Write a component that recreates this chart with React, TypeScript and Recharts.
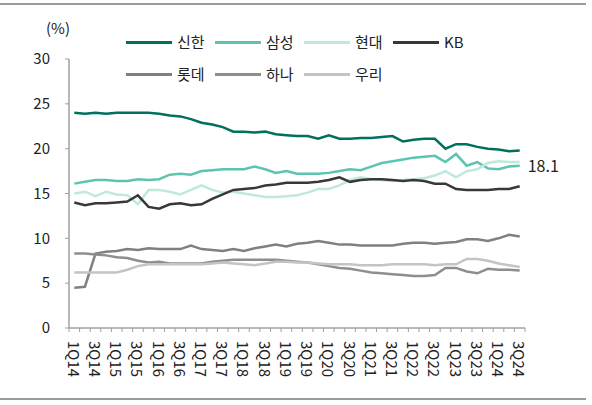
import React from "react";
import { LineChart, Line, XAxis, YAxis, LabelList } from "recharts";

const quarters = [
    "1Q14", "2Q14", "3Q14", "4Q14", "1Q15", "2Q15", "3Q15", "4Q15",
    "1Q16", "2Q16", "3Q16", "4Q16", "1Q17", "2Q17", "3Q17", "4Q17",
    "1Q18", "2Q18", "3Q18", "4Q18", "1Q19", "2Q19", "3Q19", "4Q19",
    "1Q20", "2Q20", "3Q20", "4Q20", "1Q21", "2Q21", "3Q21", "4Q21",
    "1Q22", "2Q22", "3Q22", "4Q22", "1Q23", "2Q23", "3Q23", "4Q23",
    "1Q24", "2Q24", "3Q24",
];

// 카드사별 점유율 (%)
const shinhan = [24.0, 23.9, 24.0, 23.9, 24.0, 24.0, 24.0, 24.0, 23.9, 23.7, 23.6, 23.3, 22.9, 22.7, 22.4, 21.9, 21.9, 21.8, 21.9, 21.6, 21.5, 21.4, 21.4, 21.1, 21.5, 21.1, 21.1, 21.2, 21.2, 21.3, 21.4, 20.8, 21.0, 21.1, 21.1, 20.0, 20.5, 20.5, 20.2, 20.0, 19.9, 19.7, 19.8];
const samsung = [16.1, 16.3, 16.5, 16.5, 16.4, 16.4, 16.6, 16.5, 16.6, 17.1, 17.2, 17.1, 17.5, 17.6, 17.7, 17.7, 17.7, 18.0, 17.7, 17.3, 17.5, 17.2, 17.2, 17.2, 17.3, 17.5, 17.7, 17.6, 18.0, 18.4, 18.6, 18.8, 19.0, 19.1, 19.2, 18.5, 19.4, 18.1, 18.5, 17.8, 17.7, 18.0, 18.1];
const hyundai = [15.0, 15.2, 14.7, 15.2, 14.9, 14.8, 13.8, 15.4, 15.4, 15.2, 14.9, 15.4, 15.9, 15.4, 15.1, 15.2, 15.0, 14.8, 14.6, 14.6, 14.7, 14.8, 15.1, 15.5, 15.5, 15.9, 16.5, 16.8, 16.6, 16.5, 16.4, 16.5, 16.6, 16.7, 17.0, 17.5, 16.8, 17.5, 17.7, 18.4, 18.6, 18.5, 18.5];
const kb = [14.0, 13.7, 13.9, 13.9, 14.0, 14.1, 14.8, 13.5, 13.3, 13.8, 13.9, 13.7, 13.8, 14.4, 14.9, 15.4, 15.5, 15.6, 15.9, 16.0, 16.2, 16.2, 16.2, 16.3, 16.5, 16.8, 16.3, 16.5, 16.6, 16.6, 16.5, 16.4, 16.5, 16.4, 16.1, 16.1, 15.5, 15.4, 15.4, 15.4, 15.5, 15.5, 15.8];
const lotte = [4.5, 4.6, 8.3, 8.5, 8.6, 8.8, 8.7, 8.9, 8.8, 8.8, 8.8, 9.2, 8.8, 8.7, 8.6, 8.8, 8.6, 8.9, 9.1, 9.3, 9.1, 9.4, 9.5, 9.7, 9.5, 9.3, 9.3, 9.2, 9.2, 9.2, 9.2, 9.4, 9.5, 9.5, 9.4, 9.5, 9.6, 9.9, 9.9, 9.7, 10.0, 10.4, 10.2];
const hana = [8.3, 8.3, 8.2, 8.1, 7.9, 7.8, 7.5, 7.3, 7.4, 7.2, 7.2, 7.2, 7.2, 7.4, 7.5, 7.6, 7.6, 7.6, 7.6, 7.6, 7.5, 7.4, 7.3, 7.1, 6.9, 6.7, 6.6, 6.4, 6.2, 6.1, 6.0, 5.9, 5.8, 5.8, 5.9, 6.7, 6.7, 6.3, 6.1, 6.6, 6.5, 6.5, 6.4];
const woori = [6.2, 6.2, 6.2, 6.2, 6.2, 6.5, 6.9, 7.1, 7.1, 7.1, 7.1, 7.1, 7.1, 7.2, 7.3, 7.2, 7.1, 7.0, 7.2, 7.4, 7.4, 7.3, 7.3, 7.2, 7.1, 7.1, 7.1, 7.0, 7.0, 7.0, 7.1, 7.1, 7.1, 7.1, 7.0, 7.1, 7.1, 7.7, 7.7, 7.5, 7.2, 7.0, 6.8];

const yTicks = [0, 5, 10, 15, 20, 25, 30];

const series = [
    { name: "신한", values: shinhan, color: "#00705f" },
    { name: "삼성", values: samsung, color: "#5cc4b1" },
    { name: "현대", values: hyundai, color: "#bfe8df" },
    { name: "KB", values: kb, color: "#383838" },
    { name: "롯데", values: lotte, color: "#808080" },
    { name: "하나", values: hana, color: "#8e8e8e" },
    { name: "우리", values: woori, color: "#c4c4c4" },
];

const labelSeries = "삼성";

const data = quarters.map((q, i) => {
    const row: Record<string, number | string> = { idx: i, quarter: q };
    series.forEach((s) => {
        row[s.name] = s.values[i];
    });
    return row;
});

// 눈금선은 분기 경계에, 라벨은 두 분기마다 가운데에
const xTicks: number[] = [];
for (let i = 0; i <= quarters.length; i++) {
    xTicks.push(i - 0.5);
    if (i < quarters.length && i % 2 === 0) xTicks.push(i);
}

const FONT = "'Noto Sans CJK KR', 'Noto Sans', sans-serif";
const AXIS_COLOR = "#a0a0a0";
const TEXT_COLOR = "#222";

const QuarterTick = (props: any) => {
    const { x, y, payload } = props;
    const v = payload.value as number;
    if (!Number.isInteger(v)) {
        return <line x1={x} x2={x} y1={y - 4} y2={y} stroke={AXIS_COLOR} strokeWidth={1} />;
    }
    const ty = y + 9;
    return (
        <text
            x={x}
            y={ty}
            transform={`rotate(90 ${x} ${ty})`}
            textAnchor="start"
            dominantBaseline="central"
            fontSize={15}
            fontFamily={FONT}
            fill={TEXT_COLOR}
        >
            {quarters[v]}
        </text>
    );
};

const EndLabel = (props: any) => {
    const { index, value } = props;
    if (index !== quarters.length - 1) return null;
    const x = props.x ?? props.viewBox?.x;
    const y = props.y ?? props.viewBox?.y;
    return (
        <text
            x={x + 8}
            y={y - 1}
            dominantBaseline="central"
            fontSize={16}
            fontFamily={FONT}
            fill={TEXT_COLOR}
        >
            {Number(value).toFixed(1)}
        </text>
    );
};

const App = () => {
    return (
        <div
            style={{
                position: "absolute",
                left: 0,
                top: 0,
                width: 592,
                height: 405,
                background: "#fff",
                fontFamily: FONT,
            }}
        >
            <div style={{ position: "absolute", left: 0, top: 3, width: 586, height: 2, background: "#9a9a9a" }} />
            <div style={{ position: "absolute", left: 0, top: 398, width: 586, height: 2, background: "#9a9a9a" }} />

            <div
                style={{
                    position: "absolute",
                    left: 46,
                    top: 18,
                    fontSize: 15,
                    lineHeight: "20px",
                    color: TEXT_COLOR,
                }}
            >
                (%)
            </div>

            <div
                style={{
                    position: "absolute",
                    left: 126,
                    top: 32,
                    display: "grid",
                    gridTemplateColumns: "repeat(4, 89px)",
                    rowGap: 12,
                }}
            >
                {series.map((s) => (
                    <div key={s.name} style={{ display: "flex", alignItems: "center", height: 20 }}>
                        <div style={{ width: 46, height: 3, background: s.color }} />
                        <span style={{ marginLeft: 5, fontSize: 15, color: TEXT_COLOR, lineHeight: "20px" }}>
                            {s.name}
                        </span>
                    </div>
                ))}
            </div>

            <LineChart
                width={592}
                height={405}
                data={data}
                margin={{ top: 59, right: 67, left: 0, bottom: 0 }}
            >
                <XAxis
                    dataKey="idx"
                    type="number"
                    domain={[-0.5, quarters.length - 0.5]}
                    ticks={xTicks}
                    interval={0}
                    tick={<QuarterTick />}
                    tickLine={false}
                    tickSize={4}
                    tickMargin={0}
                    height={77}
                    axisLine={{ stroke: AXIS_COLOR, strokeWidth: 1.5 }}
                />
                <YAxis
                    domain={[0, 30]}
                    ticks={yTicks}
                    width={69}
                    tickSize={4}
                    tickMargin={15}
                    tick={{ fontSize: 15, fill: TEXT_COLOR, fontFamily: FONT }}
                    tickLine={{ stroke: AXIS_COLOR }}
                    axisLine={{ stroke: AXIS_COLOR, strokeWidth: 1.5 }}
                />
                {series.map((s) => (
                    <Line
                        key={s.name}
                        type="linear"
                        dataKey={s.name}
                        stroke={s.color}
                        strokeWidth={2.5}
                        dot={false}
                        isAnimationActive={false}
                    >
                        {s.name === labelSeries && <LabelList dataKey={s.name} content={<EndLabel />} />}
                    </Line>
                ))}
            </LineChart>
        </div>
    );
};

export default App;
